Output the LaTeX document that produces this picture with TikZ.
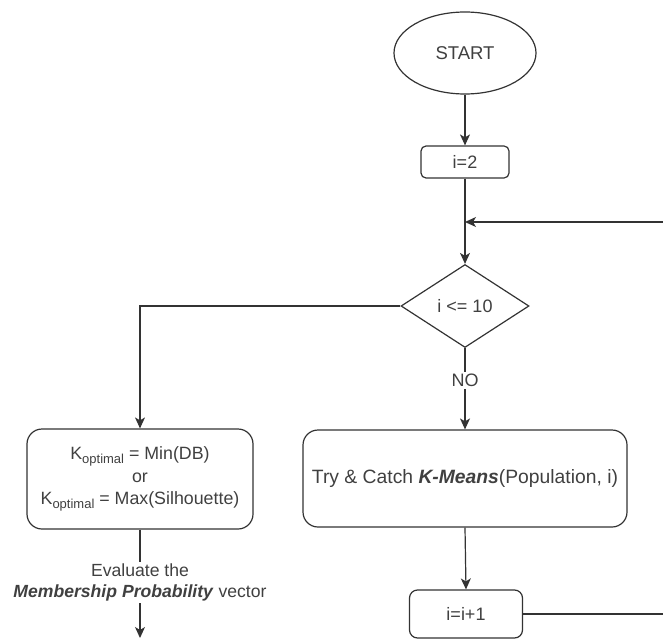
\documentclass[tikz,border=0pt]{standalone}
\usepackage{fontspec}
\setmainfont{Liberation Sans}
\usetikzlibrary{shapes.geometric,arrows.meta}
\definecolor{lncol}{HTML}{333333}
\definecolor{txcol}{HTML}{404040}
\newcommand{\Kopt}{K\raisebox{-0.4ex}{\fontsize{13}{13}\selectfont optimal}}
\begin{document}
\begin{tikzpicture}[x=1pt,y=-1pt,
  every node/.style={text=txcol, font=\fontsize{18}{21}\selectfont},
  box/.style={draw=lncol, line width=1.2pt, inner sep=0pt},
  conn/.style={draw=lncol, line width=1.2pt},
  arr/.style={conn, -{Stealth[length=11pt,width=10pt,inset=3pt]}}]
\useasboundingbox (0,0) rectangle (663,639);
\node[box, ellipse, minimum width=142pt, minimum height=82pt, font=\fontsize{18.5}{21}\selectfont] (start) at (465,53) {START};
\node[box, rounded corners=5pt, minimum width=88pt, minimum height=32pt] (i2) at (465,162) {i=2};
\node[box, diamond, aspect=1.54, minimum width=128pt, minimum height=83pt] (dec) at (465,306) {i <= 10};
\node[box, rounded corners=15pt, minimum width=226pt, minimum height=100pt, align=center, font=\fontsize{17.8}{22.5}\selectfont] (lb) at (140,479)
  {\Kopt{} = Min(DB)\\or\\\Kopt{} = Max(Silhouette)};
\node[box, rounded corners=15pt, minimum width=324pt, minimum height=97pt, font=\fontsize{19.3}{21}\selectfont] (rb) at (465,478.5)
  {Try \& Catch \textbf{\textit{K-Means}}(Population, i)};
\node[box, rounded corners=8pt, minimum width=113pt, minimum height=48pt] (inc) at (466,614) {i=i+1};
\node[align=center, inner sep=2pt, font=\fontsize{17.6}{21}\selectfont] (eval) at (140,582.5)
  {Evaluate the\\\textbf{\textit{Membership Probability}} vector};
\coordinate (endc) at (140,638);
\coordinate (re1) at (663,614);
\coordinate (re2) at (663,222);
\coordinate (join) at (465,222);

\draw[arr] (start) -- (i2);
\draw[arr] (i2) -- (dec);
\draw[arr] (re2) -- (join);
\draw[arr] (dec.west) -| (lb.north);
\draw[arr] (dec.south) -- node[pos=0.4, fill=white, inner sep=2pt] (no) {NO} (rb.north);
\draw[arr] (rb.south) -- (inc.north);
\draw[conn] (inc.east) -- (re1);
\draw[conn] (lb.south) -- (eval.north);
\draw[arr] (eval.south) -- (endc);
\end{tikzpicture}
\end{document}
